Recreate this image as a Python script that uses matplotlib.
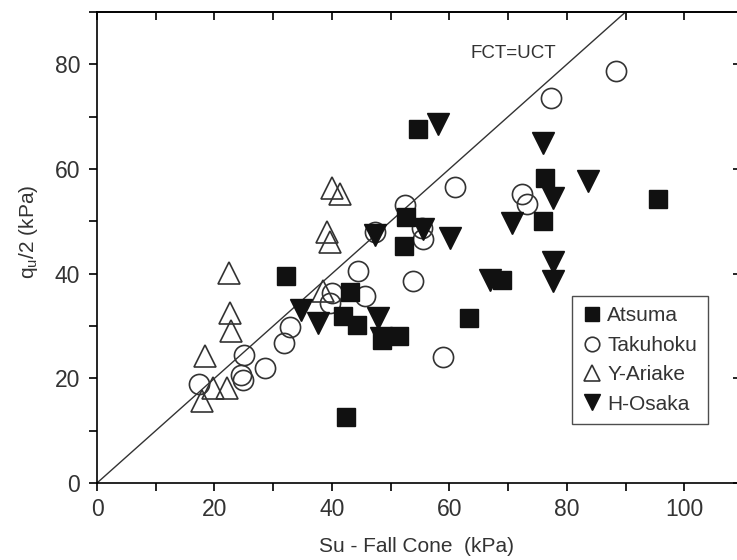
import matplotlib.pyplot as plt
from matplotlib.ticker import MultipleLocator

plt.rcParams["font.family"] = ["Liberation Sans", "DejaVu Sans"]

# Su from fall cone test (x) vs qu/2 from unconfined compression (y), kPa
atsuma_x = [54.7, 76.2, 95.6, 52.6, 76.0, 52.2, 32.2, 68.9, 43.1, 41.9, 63.4, 44.3, 48.6, 51.4, 42.4]
atsuma_y = [67.7, 58.2, 54.2, 50.8, 50.0, 45.3, 39.6, 38.8, 36.5, 32.0, 31.5, 30.2, 27.3, 28.1, 12.6]

takuhoku_x = [88.4, 77.3, 61.0, 72.4, 73.3, 52.5, 47.4, 55.3, 55.5, 44.5, 53.8, 40.0, 39.6,
              45.6, 32.9, 31.9, 25.0, 28.6, 24.5, 24.8, 17.4, 59.0]
takuhoku_y = [78.8, 73.5, 56.5, 55.3, 53.4, 53.2, 47.9, 48.8, 46.6, 40.6, 38.6, 36.3, 34.4,
              35.7, 29.8, 26.7, 24.4, 21.9, 20.6, 19.6, 19.0, 24.0]

ariake_x = [40.0, 41.4, 39.2, 39.7, 22.5, 22.7, 22.8, 18.4, 38.4, 19.8, 22.1, 17.9]
ariake_y = [56.3, 55.3, 47.9, 46.0, 40.1, 32.4, 29.0, 24.2, 36.7, 18.1, 18.1, 15.6]

osaka_x = [58.0, 76.0, 83.6, 77.7, 70.7, 55.5, 47.4, 60.1, 77.7, 77.7, 67.0, 34.7, 37.7, 47.9, 48.4]
osaka_y = [68.6, 64.9, 57.8, 54.4, 49.6, 48.5, 47.3, 46.9, 42.2, 38.6, 38.8, 33.0, 30.5, 31.6, 27.8]

line_x = [0, 110]

fig = plt.figure(figsize=(7.37, 5.6), dpi=100)
ax = fig.add_axes([97 / 737, 77 / 560, 646 / 737, 471 / 560])

# 1:1 line
ax.plot(line_x, line_x, color="#333333", lw=1.0, zorder=1)
ax.text(70.9, 82.0, "FCT=UCT", fontsize=13.5, color="#333333", ha="center", va="center")

ax.plot(atsuma_x, atsuma_y, ls="none", marker="s", ms=13.5, mfc="#111111", mec="#111111",
        label="Atsuma", zorder=3)
ax.plot(takuhoku_x, takuhoku_y, ls="none", marker="o", ms=14.5, mfc="none", mec="#333333",
        mew=1.2, label="Takuhoku", zorder=2)
ax.plot(ariake_x, ariake_y, ls="none", marker="^", ms=15.5, mfc="none", mec="#333333",
        mew=1.2, label="Y-Ariake", zorder=2)
ax.plot(osaka_x, osaka_y, ls="none", marker="v", ms=15.5, mfc="#111111", mec="#111111",
        label="H-Osaka", zorder=4)

ax.set_xlim(0, 110)
ax.set_ylim(0, 90)
ax.xaxis.set_major_locator(MultipleLocator(20))
ax.xaxis.set_minor_locator(MultipleLocator(10))
ax.yaxis.set_major_locator(MultipleLocator(20))
ax.yaxis.set_minor_locator(MultipleLocator(10))
ax.tick_params(which="both", direction="out", length=6, width=1.2, top=False, right=False,
               labelsize=16.5, labelcolor="#333333")
ax.tick_params(axis="x", pad=5)
ax.tick_params(axis="y", pad=6)

# mirrored ticks pointing inward on top and right
top = ax.secondary_xaxis("top")
top.xaxis.set_major_locator(MultipleLocator(10))
top.tick_params(direction="in", length=6, width=1.2, labeltop=False)
right = ax.secondary_yaxis("right")
right.yaxis.set_major_locator(MultipleLocator(20))
right.yaxis.set_minor_locator(MultipleLocator(10))
right.tick_params(which="major", direction="in", length=7, width=1.2, labelright=False)
right.tick_params(which="minor", direction="in", length=3, width=1.2)

for s in ax.spines.values():
    s.set_linewidth(1.2)
top.spines["top"].set_linewidth(1.2)
right.spines["right"].set_linewidth(1.2)

ax.set_xlabel("Su - Fall Cone  (kPa)", fontsize=15, color="#333333")
ax.xaxis.set_label_coords(0.494, -0.115)
ax.set_ylabel(r"q$_\mathregular{u}$/2 (kPa)", fontsize=15, color="#333333")
ax.yaxis.set_label_coords(-0.088, 0.533)

leg = ax.legend(loc="upper left", bbox_to_anchor=(572 / 737, 1 - 296 / 560),
                bbox_transform=fig.transFigure, borderaxespad=0, fontsize=15,
                markerscale=0.72, handlelength=0.9, handletextpad=0.3, labelspacing=0.5,
                borderpad=0.5, fancybox=False, frameon=True)
leg.get_frame().set_edgecolor("#222222")
leg.get_frame().set_linewidth(1.0)
for t in leg.get_texts():
    t.set_color("#333333")

fig.savefig("out.png", dpi=100)
